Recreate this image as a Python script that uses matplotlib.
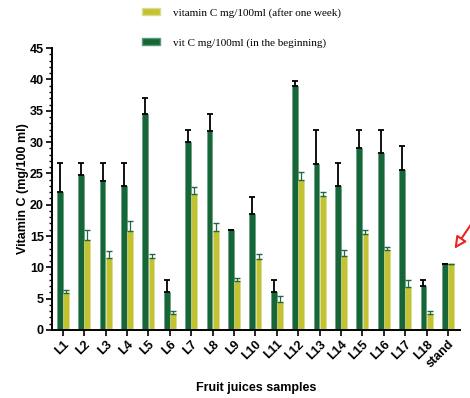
import numpy as np
import matplotlib.pyplot as plt
from matplotlib.patches import Patch

# sample names and values
samples = ['L1', 'L2', 'L3', 'L4', 'L5', 'L6', 'L7', 'L8', 'L9', 'L10',
           'L11', 'L12', 'L13', 'L14', 'L15', 'L16', 'L17', 'L18', 'stand']
vit_begin = [22.0, 24.7, 23.8, 23.0, 34.5, 6.1, 30.0, 31.8, 15.9, 18.5,
             6.1, 38.9, 26.5, 23.0, 29.1, 28.2, 25.6, 7.0, 10.6]
err_begin = [4.6, 1.9, 2.8, 3.6, 2.6, 1.9, 1.9, 2.7, 0.0, 2.7,
             1.8, 0.9, 5.4, 3.6, 2.8, 3.7, 3.7, 1.0, 0.0]
vit_week = [5.9, 14.4, 11.5, 15.8, 11.5, 2.6, 21.7, 15.8, 7.8, 11.4,
            4.5, 23.9, 21.4, 11.8, 15.3, 12.8, 6.8, 2.6, 10.6]
err_week = [0.4, 1.5, 1.1, 1.6, 0.6, 0.5, 1.2, 1.2, 0.5, 0.7,
            0.9, 1.3, 0.7, 0.9, 0.7, 0.5, 1.2, 0.5, 0.0]

dark = '#17663a'
yellow = '#c2c232'

plt.rcParams['font.family'] = 'Liberation Sans'

fig = plt.figure(figsize=(4.7, 3.98), dpi=100)
ax = fig.add_axes([0.111, 0.171, 0.868, 0.708])

x = np.arange(len(samples))
w = 0.27
ax.bar(x - 0.145, vit_begin, w, color=dark, edgecolor='#5a9a78', linewidth=0.4,
       yerr=[np.zeros(len(x)), err_begin],
       error_kw=dict(ecolor='black', elinewidth=1.3, capsize=2, capthick=1.3))
ax.bar(x + 0.145, vit_week, w, color=yellow, edgecolor='#dcdc90', linewidth=0.4,
       yerr=[np.zeros(len(x)), err_week],
       error_kw=dict(ecolor='#1f6a3e', elinewidth=0.9, capsize=2, capthick=1.0))

ax.set_xlim(-0.5, 18.57)
ax.set_ylim(0, 45)
ax.set_yticks(np.arange(0, 46, 5))
ax.set_yticks(np.arange(0, 46, 1), minor=True)
ax.set_xticks(x)
ax.set_xticklabels(samples, rotation=45, ha='right', rotation_mode='anchor',
                   fontweight='bold', fontsize=9)
for lab in ax.get_yticklabels():
    lab.set_fontweight('bold')
    lab.set_fontsize(9)
ax.tick_params(axis='both', which='major', direction='out', length=4, width=1.2, pad=2)
ax.tick_params(axis='y', which='minor', direction='out', length=2.5, width=1.0)

for s in ['top', 'right']:
    ax.spines[s].set_visible(False)
for s in ['left', 'bottom']:
    ax.spines[s].set_linewidth(1.4)

ax.set_ylabel('Vitamin C (mg/100 ml)', fontweight='bold', fontsize=9)
ax.yaxis.set_label_coords(-0.058, 0.5)
ax.set_xlabel('Fruit juices samples', fontweight='bold', fontsize=9)
ax.xaxis.set_label_coords(0.5, -0.183)

handles = [Patch(facecolor=yellow, edgecolor='#dcdc90'),
           Patch(facecolor=dark, edgecolor='#5a9a78')]
labels = ['vitamin C mg/100ml (after one week)', 'vit C mg/100ml (in the beginning)']
fig.legend(handles, labels, loc='upper left', bbox_to_anchor=(0.28, 1.005),
           frameon=False, prop={'family': 'Liberation Serif', 'size': 8},
           labelspacing=1.8, handlelength=1.7, handleheight=0.6, handletextpad=1.1)

# red arrow pointing at the standard
ax.annotate('', xy=(453, 147), xycoords='figure pixels',
            xytext=(474, 178), textcoords='figure pixels',
            arrowprops=dict(arrowstyle='-|>,head_length=0.7,head_width=0.35',
                            color='#ee2222', lw=1.5, fc='white'),
            annotation_clip=False)

fig.savefig('out.png', dpi=100)
